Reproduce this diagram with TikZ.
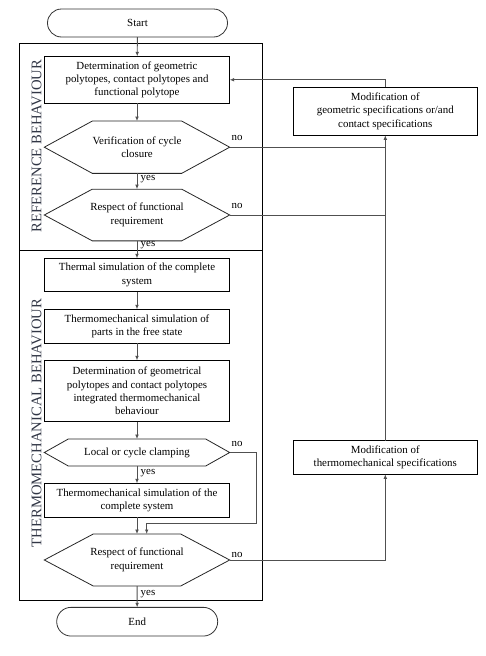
\documentclass[tikz,border=0pt]{standalone}
\usepackage{fontspec}
\setmainfont{Liberation Serif}
\usetikzlibrary{arrows.meta,shapes.misc}
\definecolor{conn}{RGB}{80,80,80}
\definecolor{sidetxt}{RGB}{50,55,70}
\tikzset{
  every node/.style={font=\fontsize{10.9}{13.4}\selectfont, inner sep=0pt, outer sep=0pt},
  procbox/.style={draw=black, line width=0.9pt, minimum width=185.4pt, align=center},
  decis/.style={minimum width=185.4pt, align=center},
  term/.style={draw=black!80, line width=0.8pt, rounded rectangle, align=center},
  frame/.style={draw=black, line width=0.9pt},
  conn/.style={draw=conn, line width=0.9pt},
  arr/.style={conn, -{Latex[length=4.5pt,width=3.8pt]}},
  lbl/.style={font=\fontsize{10.9}{12}\selectfont},
  side/.style={font=\fontsize{14.7}{15}\selectfont, text=sidetxt, rotate=90}
}
\newcommand\hexdraw[2]{%
  \draw[draw=black!85, line width=0.8pt] (#1.west) -- ([xshift=#2]#1.north west) -- ([xshift=-#2]#1.north east) -- (#1.east) -- ([xshift=-#2]#1.south east) -- ([xshift=#2]#1.south west) -- cycle;}
\begin{document}
\begin{tikzpicture}[x=1pt,y=-1pt]
\useasboundingbox (0,0) rectangle (486,656);
% frames
\draw[frame] (19.3,43) rectangle (262.7,250);
\draw[frame] (19.3,250) rectangle (262.7,600);
\node[side] (s1) at (36.5,146) {REFERENCE BEHAVIOUR};
\node[side] (s2) at (36.5,423) {THERMOMECHANICAL BEHAVIOUR};
% nodes
\node[term, minimum width=180pt, minimum height=28pt] (start) at (137.5,23) {Start};
\node[procbox, minimum height=47pt] (b1) at (137,79.8) {Determination of geometric\\polytopes, contact polytopes and\\functional polytope};
\node[decis, minimum height=52.3pt] (d1) at (137,147.2) {Verification of cycle\\closure};
\node[decis, minimum height=51.7pt] (d2) at (137,215) {Respect of functional\\requirement};
\node[procbox, minimum height=33.4pt] (b2) at (137,275) {Thermal simulation of the complete\\system};
\node[procbox, minimum height=34pt] (b3) at (137,326.3) {Thermomechanical simulation of\\parts in the free state};
\node[procbox, minimum height=61.4pt] (b4) at (137,391) {Determination of geometrical\\polytopes and contact polytopes\\integrated thermomechanical\\behaviour};
\node[decis, minimum height=27pt] (d3) at (137,452.5) {Local or cycle clamping};
\node[procbox, minimum height=34pt] (b5) at (137,500.3) {Thermomechanical simulation of the\\complete system};
\node[decis, minimum height=52pt] (d4) at (137,560) {Respect of functional\\requirement};
\node[term, minimum width=161pt, minimum height=28.7pt] (end) at (137.2,621.7) {End};
\node[procbox, minimum width=184pt, minimum height=48pt] (m1) at (385.3,111.3) {Modification of\\geometric specifications or/and\\contact specifications};
\node[procbox, minimum width=184pt, minimum height=33.6pt] (m2) at (385.3,457.5) {Modification of\\thermomechanical specifications};
\hexdraw{d1}{48pt}
\hexdraw{d2}{48pt}
\hexdraw{d3}{24pt}
\hexdraw{d4}{49pt}
% main flow
\draw[arr] (start) -- (b1);
\draw[arr] (b1) -- (d1);
\draw[arr] (d1) -- (d2);
\draw[arr] (d2) -- (b2);
\draw[arr] (b2) -- (b3);
\draw[arr] (b3) -- (b4);
\draw[arr] (b4) -- (d3);
\draw[arr] (d3) -- (b5);
\draw[arr] (b5) -- (d4);
\draw[arr] (d4) -- (end);
% labels
\node[lbl] (y1) at (148,179) {yes};
\node[lbl] (y2) at (148,245) {yes};
\node[lbl] (y3) at (148,472.7) {yes};
\node[lbl] (y4) at (148,594) {yes};
\node[lbl] (n1) at (237,137.5) {no};
\node[lbl] (n2) at (237,205.5) {no};
\node[lbl] (n3) at (237,444) {no};
\node[lbl] (n4) at (237,555) {no};
% feedback
\draw[arr] (m1.north) |- (b1.east);
\draw[arr] (m2.north) -- (m1.south);
\draw[conn] (d1.east) -- (d1.east -| m1.south);
\draw[conn] (d2.east) -- (d2.east -| m1.south);
\draw[arr] (d4.east) -| (m2.south);
\coordinate (c1) at (256.7,523.3);
\draw[arr] (d3.east) -| (c1) -| ([xshift=9.7pt]d4.north);
\end{tikzpicture}
\end{document}
